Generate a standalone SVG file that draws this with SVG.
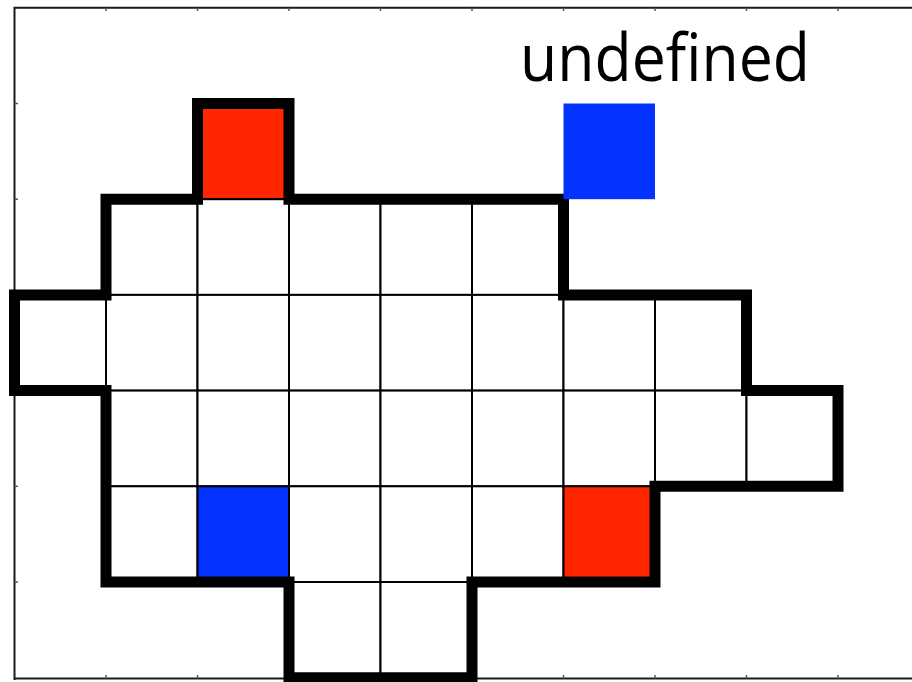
<svg xmlns="http://www.w3.org/2000/svg" width="912" height="682" viewBox="0 0 912 682">
  <style>
    .cell { fill: #ffffff; stroke: #000000; stroke-width: 2; }
    .red { fill: #ff2600; }
    .blue { fill: #0433ff; }
    .frame { fill: none; stroke: #1a1a1a; stroke-width: 2; }
    .tick { stroke: #555555; stroke-width: 1.5; }
    .outline { fill: none; stroke: #000000; stroke-width: 11; stroke-linejoin: miter; }
    .label { font-family: "Open Sans", "Liberation Sans", sans-serif; font-size: 66px; fill: #000000; }
  </style>

  <rect width="912" height="682" fill="#ffffff"/>

  <!-- axes frame with ticks at each grid line -->
  <g id="frame">
    <path class="frame" d="M14.5,680 V7.8 H930"/>
    <path class="frame" d="M14.5,678.5 H930"/>
    <g class="tick">
      <line x1="106" y1="7.8" x2="106" y2="11"/>
      <line x1="197.5" y1="7.8" x2="197.5" y2="11"/>
      <line x1="289" y1="7.8" x2="289" y2="11"/>
      <line x1="380.5" y1="7.8" x2="380.5" y2="11"/>
      <line x1="472" y1="7.8" x2="472" y2="11"/>
      <line x1="563.5" y1="7.8" x2="563.5" y2="11"/>
      <line x1="655" y1="7.8" x2="655" y2="11"/>
      <line x1="746.5" y1="7.8" x2="746.5" y2="11"/>
      <line x1="838" y1="7.8" x2="838" y2="11"/>
      <line x1="14.5" y1="103.5" x2="18" y2="103.5"/>
      <line x1="14.5" y1="199.2" x2="18" y2="199.2"/>
      <line x1="14.5" y1="294.9" x2="18" y2="294.9"/>
      <line x1="14.5" y1="390.6" x2="18" y2="390.6"/>
      <line x1="14.5" y1="486.3" x2="18" y2="486.3"/>
      <line x1="14.5" y1="582" x2="18" y2="582"/>
      <line x1="106" y1="678.5" x2="106" y2="675"/>
      <line x1="197.5" y1="678.5" x2="197.5" y2="675"/>
      <line x1="380.5" y1="678.5" x2="380.5" y2="675"/>
      <line x1="563.5" y1="678.5" x2="563.5" y2="675"/>
      <line x1="655" y1="678.5" x2="655" y2="675"/>
      <line x1="746.5" y1="678.5" x2="746.5" y2="675"/>
      <line x1="838" y1="678.5" x2="838" y2="675"/>
    </g>
  </g>

  <!-- grid cells of the region -->
  <g id="cells">
    <!-- row 1 -->
    <rect id="cell-r1-c2" class="cell red" x="197.5" y="103.5" width="91.5" height="95.7"/>
    <!-- row 2 -->
    <rect class="cell" x="106" y="199.2" width="91.5" height="95.7"/>
    <rect class="cell" x="197.5" y="199.2" width="91.5" height="95.7"/>
    <rect class="cell" x="289" y="199.2" width="91.5" height="95.7"/>
    <rect class="cell" x="380.5" y="199.2" width="91.5" height="95.7"/>
    <rect class="cell" x="472" y="199.2" width="91.5" height="95.7"/>
    <!-- row 3 -->
    <rect class="cell" x="14.5" y="294.9" width="91.5" height="95.7"/>
    <rect class="cell" x="106" y="294.9" width="91.5" height="95.7"/>
    <rect class="cell" x="197.5" y="294.9" width="91.5" height="95.7"/>
    <rect class="cell" x="289" y="294.9" width="91.5" height="95.7"/>
    <rect class="cell" x="380.5" y="294.9" width="91.5" height="95.7"/>
    <rect class="cell" x="472" y="294.9" width="91.5" height="95.7"/>
    <rect class="cell" x="563.5" y="294.9" width="91.5" height="95.7"/>
    <rect class="cell" x="655" y="294.9" width="91.5" height="95.7"/>
    <!-- row 4 -->
    <rect class="cell" x="106" y="390.6" width="91.5" height="95.7"/>
    <rect class="cell" x="197.5" y="390.6" width="91.5" height="95.7"/>
    <rect class="cell" x="289" y="390.6" width="91.5" height="95.7"/>
    <rect class="cell" x="380.5" y="390.6" width="91.5" height="95.7"/>
    <rect class="cell" x="472" y="390.6" width="91.5" height="95.7"/>
    <rect class="cell" x="563.5" y="390.6" width="91.5" height="95.7"/>
    <rect class="cell" x="655" y="390.6" width="91.5" height="95.7"/>
    <rect class="cell" x="746.5" y="390.6" width="91.5" height="95.7"/>
    <!-- row 5 -->
    <rect class="cell" x="106" y="486.3" width="91.5" height="95.7"/>
    <rect id="cell-r5-c2" class="cell blue" x="197.5" y="486.3" width="91.5" height="95.7"/>
    <rect class="cell" x="289" y="486.3" width="91.5" height="95.7"/>
    <rect class="cell" x="380.5" y="486.3" width="91.5" height="95.7"/>
    <rect class="cell" x="472" y="486.3" width="91.5" height="95.7"/>
    <rect id="cell-r5-c6" class="cell red" x="563.5" y="486.3" width="91.5" height="95.7"/>
    <!-- row 6 -->
    <rect class="cell" x="289" y="582" width="91.5" height="95.7"/>
    <rect class="cell" x="380.5" y="582" width="91.5" height="95.7"/>
  </g>

  <!-- boundary of the region -->
  <g id="boundary">
    <path class="outline" d="M197.5,103.5 H289 V199.2 H563.5 V294.9 H746.5 V390.6 H838 V486.3 H655 V582 H472 V677.7 H289 V582 H106 V390.6 H14.5 V294.9 H106 V199.2 H197.5 Z"/>
  </g>

  <!-- free cell outside the region -->
  <g id="free-cell">
    <rect class="blue" x="563.5" y="103.5" width="91.5" height="95.7"/>
  </g>

  <g id="title">
    <text class="label" x="520" y="81" textLength="290" lengthAdjust="spacingAndGlyphs">undefined</text>
  </g>
</svg>
